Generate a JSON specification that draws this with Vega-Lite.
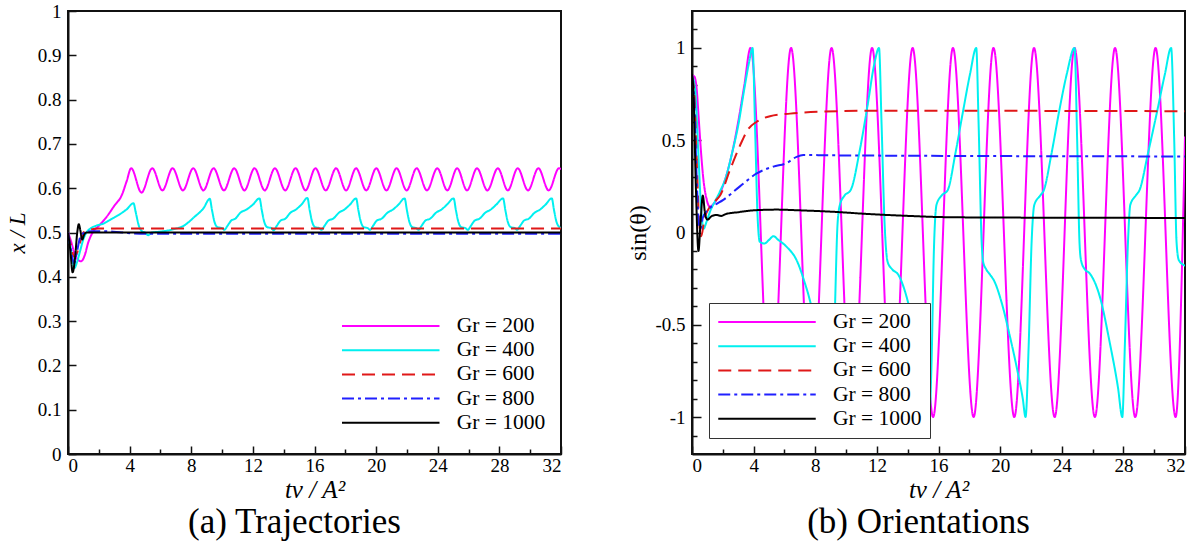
{
 "$schema": "https://vega.github.io/schema/vega-lite/v6.json",
 "background": "white",
 "padding": {"left": 5, "top": 1, "right": 0, "bottom": 0},
 "spacing": 131,
 "bounds": "flush",
 "config": {
  "font": "Liberation Serif, Times New Roman, DejaVu Serif, serif",
  "view": {"stroke": "#111", "strokeWidth": 2},
  "axis": {"grid": false, "domainColor": "#111", "domainWidth": 2, "tickColor": "#111", "tickWidth": 1.5, "labelFont": "Liberation Serif, Times New Roman, DejaVu Serif, serif", "labelFontSize": 19, "labelColor": "#000", "titleFont": "Liberation Serif, Times New Roman, DejaVu Serif, serif", "titleColor": "#000", "titleFontWeight": "normal"},
  "legend": {"labelFont": "Liberation Serif, Times New Roman, DejaVu Serif, serif", "labelFontSize": 21.5, "labelColor": "#000", "symbolType": "M-1,0H9", "symbolSize": 380.25, "symbolStrokeWidth": 2, "symbolFillColor": "transparent", "labelOffset": 94, "rowPadding": 2.2, "title": null},
  "title": {"font": "Liberation Serif, Times New Roman, DejaVu Serif, serif", "fontWeight": "normal", "color": "#000"}
 },
 "resolve": {"scale": {"x": "independent", "y": "independent"}, "legend": {"color": "independent", "strokeDash": "independent"}},
 "datasets": {
  "a": [
   {"g":"Gr = 200","t":0,"v":0.5},{"g":"Gr = 200","t":0.2,"v":0.48},{"g":"Gr = 200","t":0.4,"v":0.455},{"g":"Gr = 200","t":0.6,"v":0.44},{"g":"Gr = 200","t":0.85,"v":0.435},{"g":"Gr = 200","t":1.1,"v":0.45},{"g":"Gr = 200","t":1.3,"v":0.476},{"g":"Gr = 200","t":1.6,"v":0.5},{"g":"Gr = 200","t":2.0,"v":0.515},{"g":"Gr = 200","t":2.5,"v":0.535},{"g":"Gr = 200","t":3.0,"v":0.56},{"g":"Gr = 200","t":3.5,"v":0.585},{"g":"Gr = 200","t":3.8,"v":0.615},{"g":"Gr = 200","t":4.1,"v":0.645},{"g":"Gr = 200","t":4.77,"v":0.59},{"g":"Gr = 200","t":5.47,"v":0.645},{"g":"Gr = 200","t":6.13,"v":0.595},{"g":"Gr = 200","t":6.79,"v":0.645},{"g":"Gr = 200","t":7.46,"v":0.595},{"g":"Gr = 200","t":8.13,"v":0.645},{"g":"Gr = 200","t":8.79,"v":0.595},{"g":"Gr = 200","t":9.45,"v":0.645},{"g":"Gr = 200","t":10.12,"v":0.595},{"g":"Gr = 200","t":10.79,"v":0.645},{"g":"Gr = 200","t":11.45,"v":0.595},{"g":"Gr = 200","t":12.11,"v":0.645},{"g":"Gr = 200","t":12.77,"v":0.595},{"g":"Gr = 200","t":13.43,"v":0.645},{"g":"Gr = 200","t":14.1,"v":0.595},{"g":"Gr = 200","t":14.77,"v":0.645},{"g":"Gr = 200","t":15.42,"v":0.595},{"g":"Gr = 200","t":16.06,"v":0.645},{"g":"Gr = 200","t":16.73,"v":0.595},{"g":"Gr = 200","t":17.4,"v":0.645},{"g":"Gr = 200","t":18.05,"v":0.595},{"g":"Gr = 200","t":18.7,"v":0.645},{"g":"Gr = 200","t":19.36,"v":0.595},{"g":"Gr = 200","t":20.01,"v":0.645},{"g":"Gr = 200","t":20.67,"v":0.595},{"g":"Gr = 200","t":21.33,"v":0.645},{"g":"Gr = 200","t":21.98,"v":0.595},{"g":"Gr = 200","t":22.63,"v":0.645},{"g":"Gr = 200","t":23.3,"v":0.595},{"g":"Gr = 200","t":23.97,"v":0.645},{"g":"Gr = 200","t":24.62,"v":0.595},{"g":"Gr = 200","t":25.26,"v":0.645},{"g":"Gr = 200","t":25.9,"v":0.595},{"g":"Gr = 200","t":26.55,"v":0.645},{"g":"Gr = 200","t":27.22,"v":0.595},{"g":"Gr = 200","t":27.9,"v":0.645},{"g":"Gr = 200","t":28.55,"v":0.595},{"g":"Gr = 200","t":29.19,"v":0.645},{"g":"Gr = 200","t":29.86,"v":0.595},{"g":"Gr = 200","t":30.53,"v":0.645},{"g":"Gr = 200","t":31.2,"v":0.595},{"g":"Gr = 200","t":31.87,"v":0.645},{"g":"Gr = 200","t":32,"v":0.643},
   {"g":"Gr = 400","t":0,"v":0.5},{"g":"Gr = 400","t":0.2,"v":0.46},{"g":"Gr = 400","t":0.42,"v":0.42},{"g":"Gr = 400","t":0.6,"v":0.435},{"g":"Gr = 400","t":0.8,"v":0.46},{"g":"Gr = 400","t":1.0,"v":0.485},{"g":"Gr = 400","t":1.2,"v":0.5},{"g":"Gr = 400","t":1.5,"v":0.51},{"g":"Gr = 400","t":1.8,"v":0.515},{"g":"Gr = 400","t":2.3,"v":0.52},{"g":"Gr = 400","t":2.8,"v":0.53},{"g":"Gr = 400","t":3.3,"v":0.54},{"g":"Gr = 400","t":3.8,"v":0.552},{"g":"Gr = 400","t":4.25,"v":0.566},{"g":"Gr = 400","t":4.4,"v":0.545},{"g":"Gr = 400","t":4.6,"v":0.515},{"g":"Gr = 400","t":4.8,"v":0.503},{"g":"Gr = 400","t":5.0,"v":0.5},{"g":"Gr = 400","t":5.2,"v":0.494},{"g":"Gr = 400","t":5.45,"v":0.5},{"g":"Gr = 400","t":6.0,"v":0.502},{"g":"Gr = 400","t":6.8,"v":0.507},{"g":"Gr = 400","t":7.5,"v":0.515},{"g":"Gr = 400","t":8.2,"v":0.535},{"g":"Gr = 400","t":8.8,"v":0.555},{"g":"Gr = 400","t":9.2,"v":0.576},
   {"g":"Gr = 400","t":9.35,"v":0.55},{"g":"Gr = 400","t":9.5,"v":0.525},{"g":"Gr = 400","t":9.7,"v":0.512},{"g":"Gr = 400","t":10.0,"v":0.51},{"g":"Gr = 400","t":10.15,"v":0.506},{"g":"Gr = 400","t":10.35,"v":0.515},{"g":"Gr = 400","t":10.6,"v":0.527},{"g":"Gr = 400","t":10.85,"v":0.531},{"g":"Gr = 400","t":11.2,"v":0.545},{"g":"Gr = 400","t":11.6,"v":0.552},{"g":"Gr = 400","t":12.0,"v":0.563},{"g":"Gr = 400","t":12.43,"v":0.577},
   {"g":"Gr = 400","t":12.58,"v":0.55},{"g":"Gr = 400","t":12.73,"v":0.525},{"g":"Gr = 400","t":12.93,"v":0.512},{"g":"Gr = 400","t":13.2,"v":0.51},{"g":"Gr = 400","t":13.35,"v":0.505},{"g":"Gr = 400","t":13.55,"v":0.515},{"g":"Gr = 400","t":13.8,"v":0.527},{"g":"Gr = 400","t":14.1,"v":0.531},{"g":"Gr = 400","t":14.45,"v":0.545},{"g":"Gr = 400","t":14.8,"v":0.552},{"g":"Gr = 400","t":15.15,"v":0.563},{"g":"Gr = 400","t":15.54,"v":0.578},
   {"g":"Gr = 400","t":15.69,"v":0.55},{"g":"Gr = 400","t":15.84,"v":0.525},{"g":"Gr = 400","t":16.04,"v":0.512},{"g":"Gr = 400","t":16.3,"v":0.51},{"g":"Gr = 400","t":16.45,"v":0.506},{"g":"Gr = 400","t":16.65,"v":0.515},{"g":"Gr = 400","t":16.9,"v":0.527},{"g":"Gr = 400","t":17.2,"v":0.531},{"g":"Gr = 400","t":17.6,"v":0.545},{"g":"Gr = 400","t":17.95,"v":0.552},{"g":"Gr = 400","t":18.3,"v":0.563},{"g":"Gr = 400","t":18.7,"v":0.577},
   {"g":"Gr = 400","t":18.85,"v":0.55},{"g":"Gr = 400","t":19.0,"v":0.525},{"g":"Gr = 400","t":19.2,"v":0.512},{"g":"Gr = 400","t":19.45,"v":0.51},{"g":"Gr = 400","t":19.6,"v":0.506},{"g":"Gr = 400","t":19.8,"v":0.515},{"g":"Gr = 400","t":20.05,"v":0.527},{"g":"Gr = 400","t":20.35,"v":0.531},{"g":"Gr = 400","t":20.75,"v":0.545},{"g":"Gr = 400","t":21.1,"v":0.552},{"g":"Gr = 400","t":21.45,"v":0.563},{"g":"Gr = 400","t":21.85,"v":0.577},
   {"g":"Gr = 400","t":22.0,"v":0.55},{"g":"Gr = 400","t":22.15,"v":0.525},{"g":"Gr = 400","t":22.35,"v":0.512},{"g":"Gr = 400","t":22.6,"v":0.51},{"g":"Gr = 400","t":22.75,"v":0.506},{"g":"Gr = 400","t":22.95,"v":0.515},{"g":"Gr = 400","t":23.2,"v":0.527},{"g":"Gr = 400","t":23.5,"v":0.531},{"g":"Gr = 400","t":23.9,"v":0.545},{"g":"Gr = 400","t":24.25,"v":0.552},{"g":"Gr = 400","t":24.6,"v":0.563},{"g":"Gr = 400","t":25.03,"v":0.577},
   {"g":"Gr = 400","t":25.18,"v":0.55},{"g":"Gr = 400","t":25.33,"v":0.525},{"g":"Gr = 400","t":25.53,"v":0.512},{"g":"Gr = 400","t":25.8,"v":0.51},{"g":"Gr = 400","t":25.95,"v":0.506},{"g":"Gr = 400","t":26.15,"v":0.515},{"g":"Gr = 400","t":26.4,"v":0.527},{"g":"Gr = 400","t":26.7,"v":0.531},{"g":"Gr = 400","t":27.1,"v":0.545},{"g":"Gr = 400","t":27.45,"v":0.552},{"g":"Gr = 400","t":27.8,"v":0.563},{"g":"Gr = 400","t":28.24,"v":0.577},
   {"g":"Gr = 400","t":28.39,"v":0.55},{"g":"Gr = 400","t":28.54,"v":0.525},{"g":"Gr = 400","t":28.74,"v":0.512},{"g":"Gr = 400","t":29.0,"v":0.51},{"g":"Gr = 400","t":29.15,"v":0.506},{"g":"Gr = 400","t":29.35,"v":0.515},{"g":"Gr = 400","t":29.6,"v":0.527},{"g":"Gr = 400","t":29.9,"v":0.531},{"g":"Gr = 400","t":30.3,"v":0.545},{"g":"Gr = 400","t":30.65,"v":0.552},{"g":"Gr = 400","t":31.0,"v":0.563},{"g":"Gr = 400","t":31.4,"v":0.577},
   {"g":"Gr = 400","t":31.55,"v":0.55},{"g":"Gr = 400","t":31.7,"v":0.525},{"g":"Gr = 400","t":31.9,"v":0.512},{"g":"Gr = 400","t":32,"v":0.51},
   {"g":"Gr = 600","t":0,"v":0.5},{"g":"Gr = 600","t":0.2,"v":0.47},{"g":"Gr = 600","t":0.4,"v":0.445},{"g":"Gr = 600","t":0.6,"v":0.455},{"g":"Gr = 600","t":0.8,"v":0.48},{"g":"Gr = 600","t":1.0,"v":0.5},{"g":"Gr = 600","t":1.3,"v":0.505},{"g":"Gr = 600","t":2.0,"v":0.509},{"g":"Gr = 600","t":32,"v":0.509},
   {"g":"Gr = 800","t":0,"v":0.5},{"g":"Gr = 800","t":0.2,"v":0.46},{"g":"Gr = 800","t":0.4,"v":0.43},{"g":"Gr = 800","t":0.6,"v":0.46},{"g":"Gr = 800","t":0.8,"v":0.49},{"g":"Gr = 800","t":1.1,"v":0.5},{"g":"Gr = 800","t":1.5,"v":0.503},{"g":"Gr = 800","t":2.5,"v":0.503},{"g":"Gr = 800","t":3.5,"v":0.5},{"g":"Gr = 800","t":5,"v":0.497},{"g":"Gr = 800","t":32,"v":0.497},
   {"g":"Gr = 1000","t":0,"v":0.5},{"g":"Gr = 1000","t":0.15,"v":0.46},{"g":"Gr = 1000","t":0.3,"v":0.41},{"g":"Gr = 1000","t":0.45,"v":0.44},{"g":"Gr = 1000","t":0.6,"v":0.5},{"g":"Gr = 1000","t":0.7,"v":0.519},{"g":"Gr = 1000","t":0.8,"v":0.505},{"g":"Gr = 1000","t":0.92,"v":0.484},{"g":"Gr = 1000","t":1.05,"v":0.495},{"g":"Gr = 1000","t":1.2,"v":0.5},{"g":"Gr = 1000","t":32,"v":0.5}
  ],
  "b": [
   {"g":"Gr = 200","t":0,"v":0.85},{"g":"Gr = 200","t":0.15,"v":0.845},{"g":"Gr = 200","t":0.3,"v":0.78},{"g":"Gr = 200","t":0.45,"v":0.6},{"g":"Gr = 200","t":0.6,"v":0.42},{"g":"Gr = 200","t":0.75,"v":0.28},{"g":"Gr = 200","t":0.95,"v":0.18},{"g":"Gr = 200","t":1.15,"v":0.14},{"g":"Gr = 200","t":1.45,"v":0.16},{"g":"Gr = 200","t":1.8,"v":0.21},{"g":"Gr = 200","t":2.2,"v":0.3},{"g":"Gr = 200","t":2.6,"v":0.43},{"g":"Gr = 200","t":3.0,"v":0.6},{"g":"Gr = 200","t":3.4,"v":0.8},{"g":"Gr = 200","t":3.8,"v":1.0},{"g":"Gr = 200","t":5.12,"v":-1},{"g":"Gr = 200","t":6.43,"v":1},{"g":"Gr = 200","t":7.75,"v":-1},{"g":"Gr = 200","t":9.06,"v":1},{"g":"Gr = 200","t":10.38,"v":-1},{"g":"Gr = 200","t":11.69,"v":1},{"g":"Gr = 200","t":13.0,"v":-1},{"g":"Gr = 200","t":14.32,"v":1},{"g":"Gr = 200","t":15.65,"v":-1},{"g":"Gr = 200","t":16.94,"v":1},{"g":"Gr = 200","t":18.28,"v":-1},{"g":"Gr = 200","t":19.57,"v":1},{"g":"Gr = 200","t":20.92,"v":-1},{"g":"Gr = 200","t":22.2,"v":1},{"g":"Gr = 200","t":23.54,"v":-1},{"g":"Gr = 200","t":24.83,"v":1},{"g":"Gr = 200","t":26.15,"v":-1},{"g":"Gr = 200","t":27.46,"v":1},{"g":"Gr = 200","t":28.77,"v":-1},{"g":"Gr = 200","t":30.09,"v":1},{"g":"Gr = 200","t":31.39,"v":-1},{"g":"Gr = 200","t":32,"v":0.52},
   {"g":"Gr = 400","t":0,"v":0.85},{"g":"Gr = 400","t":0.2,"v":0.78},{"g":"Gr = 400","t":0.4,"v":0.45},{"g":"Gr = 400","t":0.6,"v":0.12},{"g":"Gr = 400","t":0.75,"v":0.02},{"g":"Gr = 400","t":0.95,"v":0.06},{"g":"Gr = 400","t":1.2,"v":0.12},{"g":"Gr = 400","t":1.5,"v":0.17},{"g":"Gr = 400","t":1.8,"v":0.22},{"g":"Gr = 400","t":2.2,"v":0.3},{"g":"Gr = 400","t":2.6,"v":0.43},{"g":"Gr = 400","t":3.0,"v":0.58},{"g":"Gr = 400","t":3.4,"v":0.78},{"g":"Gr = 400","t":3.7,"v":0.92},{"g":"Gr = 400","t":3.93,"v":1.0},{"g":"Gr = 400","t":4.1,"v":0.55},{"g":"Gr = 400","t":4.25,"v":0.1},{"g":"Gr = 400","t":4.4,"v":-0.05},{"g":"Gr = 400","t":4.7,"v":-0.06},{"g":"Gr = 400","t":5.0,"v":-0.04},{"g":"Gr = 400","t":5.28,"v":-0.02},{"g":"Gr = 400","t":5.6,"v":-0.04},{"g":"Gr = 400","t":6.14,"v":-0.077},{"g":"Gr = 400","t":6.79,"v":-0.15},{"g":"Gr = 400","t":7.33,"v":-0.275},{"g":"Gr = 400","t":7.66,"v":-0.37},{"g":"Gr = 400","t":8.0,"v":-0.5},{"g":"Gr = 400","t":8.4,"v":-0.7},{"g":"Gr = 400","t":8.8,"v":-0.9},{"g":"Gr = 400","t":9.05,"v":-1.0},{"g":"Gr = 400","t":9.2,"v":-0.7},{"g":"Gr = 400","t":9.3,"v":-0.35},{"g":"Gr = 400","t":9.45,"v":0.05},{"g":"Gr = 400","t":9.6,"v":0.15},{"g":"Gr = 400","t":9.9,"v":0.2},{"g":"Gr = 400","t":10.3,"v":0.23},{"g":"Gr = 400","t":10.9,"v":0.45},{"g":"Gr = 400","t":11.4,"v":0.69},{"g":"Gr = 400","t":11.85,"v":0.92},{"g":"Gr = 400","t":12.14,"v":1.0},{"g":"Gr = 400","t":12.3,"v":0.6},{"g":"Gr = 400","t":12.5,"v":0.05},{"g":"Gr = 400","t":12.7,"v":-0.16},{"g":"Gr = 400","t":13.0,"v":-0.2},{"g":"Gr = 400","t":13.4,"v":-0.23},{"g":"Gr = 400","t":13.9,"v":-0.34},{"g":"Gr = 400","t":14.4,"v":-0.52},{"g":"Gr = 400","t":14.9,"v":-0.74},{"g":"Gr = 400","t":15.25,"v":-0.92},{"g":"Gr = 400","t":15.4,"v":-1.0},{"g":"Gr = 400","t":15.55,"v":-0.7},{"g":"Gr = 400","t":15.7,"v":-0.1},{"g":"Gr = 400","t":15.87,"v":0.15},{"g":"Gr = 400","t":16.2,"v":0.2},{"g":"Gr = 400","t":16.6,"v":0.23},{"g":"Gr = 400","t":17.1,"v":0.43},{"g":"Gr = 400","t":17.6,"v":0.66},{"g":"Gr = 400","t":18.05,"v":0.86},{"g":"Gr = 400","t":18.45,"v":1.0},{"g":"Gr = 400","t":18.6,"v":0.6},{"g":"Gr = 400","t":18.8,"v":-0.05},{"g":"Gr = 400","t":18.9,"v":-0.16},{"g":"Gr = 400","t":19.1,"v":-0.2},{"g":"Gr = 400","t":19.36,"v":-0.23},{"g":"Gr = 400","t":19.6,"v":-0.26},{"g":"Gr = 400","t":20.1,"v":-0.38},{"g":"Gr = 400","t":20.6,"v":-0.55},{"g":"Gr = 400","t":21.1,"v":-0.74},{"g":"Gr = 400","t":21.47,"v":-0.9},{"g":"Gr = 400","t":21.65,"v":-1.0},{"g":"Gr = 400","t":21.85,"v":-0.62},{"g":"Gr = 400","t":22.04,"v":-0.06},{"g":"Gr = 400","t":22.22,"v":0.15},{"g":"Gr = 400","t":22.6,"v":0.2},{"g":"Gr = 400","t":22.84,"v":0.23},{"g":"Gr = 400","t":23.34,"v":0.43},{"g":"Gr = 400","t":23.84,"v":0.66},{"g":"Gr = 400","t":24.33,"v":0.86},{"g":"Gr = 400","t":24.83,"v":1.0},{"g":"Gr = 400","t":25.0,"v":0.5},{"g":"Gr = 400","t":25.15,"v":-0.05},{"g":"Gr = 400","t":25.25,"v":-0.15},{"g":"Gr = 400","t":25.5,"v":-0.2},{"g":"Gr = 400","t":25.8,"v":-0.22},{"g":"Gr = 400","t":26.48,"v":-0.35},{"g":"Gr = 400","t":27.1,"v":-0.59},{"g":"Gr = 400","t":27.65,"v":-0.84},{"g":"Gr = 400","t":27.93,"v":-1.0},{"g":"Gr = 400","t":28.1,"v":-0.6},{"g":"Gr = 400","t":28.3,"v":-0.05},{"g":"Gr = 400","t":28.45,"v":0.15},{"g":"Gr = 400","t":28.8,"v":0.2},{"g":"Gr = 400","t":29.05,"v":0.23},{"g":"Gr = 400","t":29.6,"v":0.43},{"g":"Gr = 400","t":30.2,"v":0.66},{"g":"Gr = 400","t":30.7,"v":0.86},{"g":"Gr = 400","t":31.1,"v":1.0},{"g":"Gr = 400","t":31.3,"v":0.5},{"g":"Gr = 400","t":31.45,"v":-0.05},{"g":"Gr = 400","t":31.6,"v":-0.15},{"g":"Gr = 400","t":32,"v":-0.18},
   {"g":"Gr = 600","t":0,"v":0.85},{"g":"Gr = 600","t":0.15,"v":0.75},{"g":"Gr = 600","t":0.3,"v":0.4},{"g":"Gr = 600","t":0.45,"v":0.08},{"g":"Gr = 600","t":0.6,"v":-0.02},{"g":"Gr = 600","t":0.8,"v":0.07},{"g":"Gr = 600","t":1.17,"v":0.14},{"g":"Gr = 600","t":1.5,"v":0.17},{"g":"Gr = 600","t":1.82,"v":0.2},{"g":"Gr = 600","t":2.47,"v":0.34},{"g":"Gr = 600","t":3.11,"v":0.47},{"g":"Gr = 600","t":3.65,"v":0.56},{"g":"Gr = 600","t":4.2,"v":0.6},{"g":"Gr = 600","t":5.06,"v":0.63},{"g":"Gr = 600","t":6.36,"v":0.644},{"g":"Gr = 600","t":8.52,"v":0.655},{"g":"Gr = 600","t":11.77,"v":0.66},{"g":"Gr = 600","t":32,"v":0.657},
   {"g":"Gr = 800","t":0,"v":0.85},{"g":"Gr = 800","t":0.15,"v":0.7},{"g":"Gr = 800","t":0.3,"v":0.3},{"g":"Gr = 800","t":0.45,"v":0.05},{"g":"Gr = 800","t":0.55,"v":0.02},{"g":"Gr = 800","t":0.7,"v":0.08},{"g":"Gr = 800","t":1.0,"v":0.12},{"g":"Gr = 800","t":1.5,"v":0.15},{"g":"Gr = 800","t":2.03,"v":0.177},{"g":"Gr = 800","t":3.11,"v":0.25},{"g":"Gr = 800","t":4.2,"v":0.32},{"g":"Gr = 800","t":5.28,"v":0.357},{"g":"Gr = 800","t":6.14,"v":0.376},{"g":"Gr = 800","t":6.79,"v":0.41},{"g":"Gr = 800","t":7.22,"v":0.42},{"g":"Gr = 800","t":9,"v":0.418},{"g":"Gr = 800","t":32,"v":0.412},
   {"g":"Gr = 1000","t":0,"v":0.86},{"g":"Gr = 1000","t":0.1,"v":0.75},{"g":"Gr = 1000","t":0.25,"v":0.25},{"g":"Gr = 1000","t":0.42,"v":-0.1},{"g":"Gr = 1000","t":0.55,"v":0.05},{"g":"Gr = 1000","t":0.7,"v":0.2},{"g":"Gr = 1000","t":0.85,"v":0.1},{"g":"Gr = 1000","t":1.0,"v":0.07},{"g":"Gr = 1000","t":1.3,"v":0.09},{"g":"Gr = 1000","t":1.6,"v":0.095},{"g":"Gr = 1000","t":1.9,"v":0.09},{"g":"Gr = 1000","t":2.2,"v":0.1},{"g":"Gr = 1000","t":3,"v":0.11},{"g":"Gr = 1000","t":4,"v":0.12},{"g":"Gr = 1000","t":5.5,"v":0.124},{"g":"Gr = 1000","t":7,"v":0.12},{"g":"Gr = 1000","t":9,"v":0.113},{"g":"Gr = 1000","t":11.5,"v":0.1},{"g":"Gr = 1000","t":14,"v":0.09},{"g":"Gr = 1000","t":16.5,"v":0.083},{"g":"Gr = 1000","t":20,"v":0.081},{"g":"Gr = 1000","t":32,"v":0.079}
  ]
 },
 "hconcat": [
  {
   "width": 493, "height": 443,
   "data": {"name": "a"},
   "title": {"text": "(a) Trajectories", "orient": "bottom", "anchor": "middle", "fontSize": 35, "offset": 3, "dx": -20, "font": "Liberation Serif, Times New Roman, DejaVu Serif, serif", "fontWeight": "normal"},
   "resolve": {"axis": {"x": "independent"}},
   "layer": [
    {
     "mark": {"type": "line", "interpolate": "monotone", "strokeWidth": 2, "clip": true},
     "encoding": {
      "x": {"field": "t", "type": "quantitative", "scale": {"domain": [0, 32], "nice": false, "zero": false},
            "axis": {"title": "tν / A²", "values": [0,4,8,12,16,20,24,28,32], "format": "d", "tickSize": -8, "labelPadding": 10, "titleFontSize": 25, "titleFontStyle": "italic", "titlePadding": 2}},
      "y": {"field": "v", "type": "quantitative", "scale": {"domain": [0, 1], "nice": false, "zero": false},
            "axis": {"title": "x / L", "values": [0,0.1,0.2,0.3,0.4,0.5,0.6,0.7,0.8,0.9,1], "format": "~g", "tickSize": -8, "labelPadding": 15, "titleFontSize": 23, "titleFontStyle": "italic", "titlePadding": 8}},
      "color": {"field": "g", "type": "nominal", "scale": {"domain": ["Gr = 200","Gr = 400","Gr = 600","Gr = 800","Gr = 1000"], "range": ["#FF00FF","#00F0F0","#E01818","#2020FF","#000000"]},
                "legend": {"orient": "none", "legendX": 272.75, "legendY": 304, "padding": 0, "labelFont": "Liberation Serif, Times New Roman, DejaVu Serif, serif"}},
      "strokeDash": {"field": "g", "type": "nominal", "scale": {"domain": ["Gr = 200","Gr = 400","Gr = 600","Gr = 800","Gr = 1000"], "range": [[1,0],[1,0],[13,7],[12,4,3,4],[1,0]]},
                "legend": {"orient": "none", "legendX": 272.75, "legendY": 304, "padding": 0, "labelFont": "Liberation Serif, Times New Roman, DejaVu Serif, serif"}}
     }
    },
    {
     "mark": {"type": "point", "opacity": 0},
     "encoding": {
      "x": {"datum": 0, "type": "quantitative", "axis": {"orient": "top", "offset": -443, "values": [2,6,10,14,18,22,26,30], "tickSize": 5, "labels": false, "domain": false, "title": null}}
     }
    }
   ]
  },
  {
   "width": 493, "height": 443,
   "data": {"name": "b"},
   "title": {"text": "(b) Orientations", "orient": "bottom", "anchor": "middle", "fontSize": 35, "offset": 3, "dx": -20, "font": "Liberation Serif, Times New Roman, DejaVu Serif, serif", "fontWeight": "normal"},
   "resolve": {"axis": {"x": "independent", "y": "independent"}},
   "layer": [
    {
     "mark": {"type": "line", "interpolate": "monotone", "strokeWidth": 2, "clip": true},
     "encoding": {
      "x": {"field": "t", "type": "quantitative", "scale": {"domain": [0, 32], "nice": false, "zero": false},
            "axis": {"title": "tν / A²", "values": [0,4,8,12,16,20,24,28,32], "format": "d", "tickSize": -8, "labelPadding": 10, "titleFontSize": 25, "titleFontStyle": "italic", "titlePadding": 2}},
      "y": {"field": "v", "type": "quantitative", "scale": {"domain": [-1.2, 1.2], "nice": false, "zero": false},
            "axis": {"title": "sin(θ)", "values": [-1,-0.5,0,0.5,1], "labelExpr": "datum.value < 0 ? '-' + format(-datum.value, '~g') : format(datum.value, '~g')", "tickSize": -9, "labelPadding": 16, "titleFontSize": 24, "titlePadding": 4}},
      "color": {"field": "g", "type": "nominal", "scale": {"domain": ["Gr = 200","Gr = 400","Gr = 600","Gr = 800","Gr = 1000"], "range": ["#FF00FF","#00F0F0","#E01818","#2020FF","#000000"]},
                "legend": {"orient": "none", "legendX": 17, "legendY": 292, "padding": 8, "strokeColor": "#333", "fillColor": "white", "labelFont": "Liberation Serif, Times New Roman, DejaVu Serif, serif"}},
      "strokeDash": {"field": "g", "type": "nominal", "scale": {"domain": ["Gr = 200","Gr = 400","Gr = 600","Gr = 800","Gr = 1000"], "range": [[1,0],[1,0],[13,7],[12,4,3,4],[1,0]]},
                "legend": {"orient": "none", "legendX": 17, "legendY": 292, "padding": 8, "strokeColor": "#333", "fillColor": "white", "labelFont": "Liberation Serif, Times New Roman, DejaVu Serif, serif"}}
     }
    },
    {
     "mark": {"type": "point", "opacity": 0},
     "encoding": {
      "x": {"datum": 0, "type": "quantitative", "axis": {"orient": "top", "offset": -443, "values": [2,6,10,14,18,22,26,30], "tickSize": 5, "labels": false, "domain": false, "title": null}},
      "y": {"datum": 0, "type": "quantitative", "axis": {"orient": "right", "offset": -493, "values": [-1.1,-0.9,-0.8,-0.7,-0.6,-0.4,-0.3,-0.2,-0.1,0.1,0.2,0.3,0.4,0.6,0.7,0.8,0.9,1.1], "tickSize": 5, "labels": false, "domain": false, "title": null}}
     }
    }
   ]
  }
 ]
}
